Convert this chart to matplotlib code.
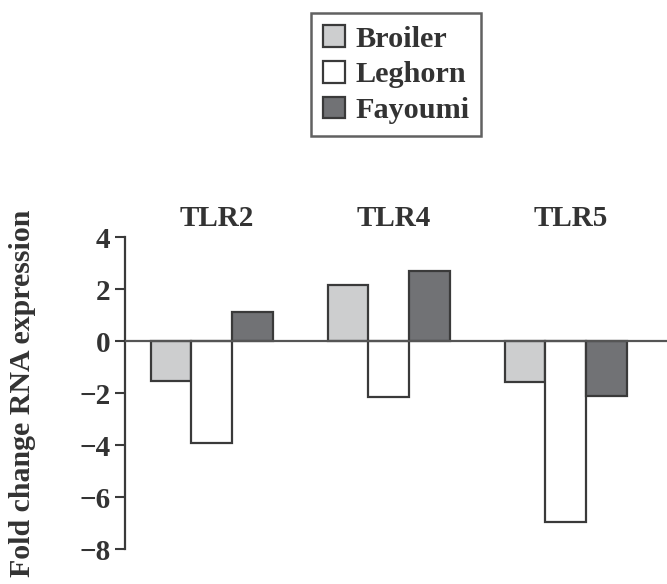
import matplotlib.pyplot as plt
import numpy as np

# datos
genes = ['TLR2', 'TLR4', 'TLR5']
broiler = [-1.55, 2.15, -1.57]
leghorn = [-3.92, -2.14, -6.95]
fayoumi = [1.13, 2.68, -2.11]
razas = ['Broiler', 'Leghorn', 'Fayoumi']
colores = ['#cdcecf', '#ffffff', '#717275']
yticks = [4, 2, 0, -2, -4, -6, -8]

plt.rcParams['font.family'] = ['Liberation Serif', 'DejaVu Serif']
plt.rcParams['font.weight'] = 'bold'
plt.rcParams['text.color'] = '#333333'
plt.rcParams['axes.labelcolor'] = '#333333'
plt.rcParams['ytick.color'] = '#3a3a3a'
plt.rcParams['ytick.labelcolor'] = '#333333'

fs = 21
borde = '#3a3a3a'

fig = plt.figure(figsize=(6.67, 5.84), dpi=100)
ax = fig.add_axes([125 / 667, 1 - 549 / 584, 1 - 125 / 667, (549 - 237) / 584])

x = np.arange(len(genes))
w = 0.229
for i, (vals, c) in enumerate(zip([broiler, leghorn, fayoumi], colores)):
    ax.bar(x + (i - 1) * w, vals, w, color=c, edgecolor=borde, linewidth=1.6,
           label=razas[i], zorder=2)

ax.axhline(0, color='#555555', lw=1.6, zorder=3)

for xi, g in zip(x, genes):
    ax.text(xi + 0.03, 4.42, g, ha='center', va='baseline', fontsize=fs,
            fontweight='bold', clip_on=False)

ax.set_xlim(-0.49, 2.572)
ax.set_ylim(-8, 4)
ax.set_yticks(yticks)
ax.set_xticks([])
ax.tick_params(axis='y', length=7, width=1.5, pad=3.5, labelsize=fs)
for lab in ax.get_yticklabels():
    lab.set_fontweight('bold')

for s in ['top', 'right', 'bottom']:
    ax.spines[s].set_visible(False)
ax.spines['left'].set_color(borde)
ax.spines['left'].set_linewidth(1.6)

ax.set_ylabel('Fold change RNA expression', fontsize=fs + 0.5, fontweight='bold')
ax.yaxis.set_label_coords(-0.164, 0.5)

leg = fig.legend(loc='upper left', bbox_to_anchor=(310.7 / 667, 1 - 13.3 / 584),
                 borderaxespad=0, fontsize=fs + 0.8, frameon=True, fancybox=False,
                 handlelength=0.72, handleheight=0.72, handletextpad=0.35,
                 labelspacing=0.27, borderpad=0.4)
leg.get_frame().set_edgecolor(borde)
leg.get_frame().set_linewidth(1.8)
for t in leg.get_texts():
    t.set_fontweight('bold')

fig.savefig('out.png', dpi=100)
